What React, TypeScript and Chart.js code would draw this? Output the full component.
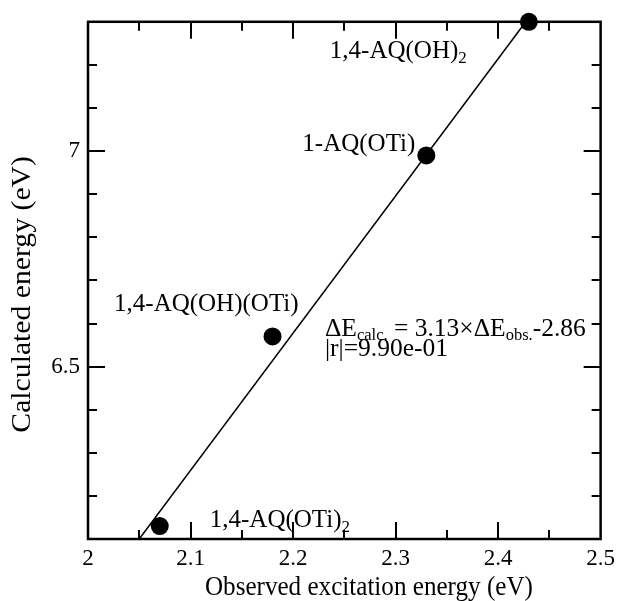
import React, { useEffect, useRef } from "react";
import { Chart, registerables } from "chart.js";

Chart.register(...registerables);

// ---- data ----
const COMPOUNDS = ["1,4-AQ(OTi)_2", "1,4-AQ(OH)(OTi)", "1-AQ(OTi)", "1,4-AQ(OH)_2"];
const OBSERVED = [2.07, 2.18, 2.33, 2.43];
const CALCULATED = [6.13, 6.57, 6.99, 7.3];
const FIT_X = [2.05, 2.427];
const FIT_Y = [6.1, 7.3];
const X_TICKS = [2, 2.1, 2.2, 2.3, 2.4, 2.5];
const X_MINOR = [2.05, 2.15, 2.25, 2.35, 2.45];
const Y_TICKS = [6.5, 7];
const Y_MINOR = [6.2, 6.3, 6.4, 6.6, 6.7, 6.8, 6.9, 7.1, 7.2];
const X_TITLE = "Observed excitation energy (eV)";
const Y_TITLE = "Calculated energy (eV)";
const FIT_SLOPE = "3.13";
const FIT_INTERCEPT = "-2.86";
const FIT_R = "9.90e-01";

const SERIF = "'Liberation Serif', 'Times New Roman', serif";

type Part = [string, boolean];

function drawParts(
  ctx: CanvasRenderingContext2D,
  parts: Part[],
  x: number,
  y: number,
  align: "left" | "right",
  size: number,
  subSize: number,
  subDrop: number
) {
  const widths = parts.map(([t, sub]) => {
    ctx.font = `${sub ? subSize : size}px ${SERIF}`;
    return ctx.measureText(t).width;
  });
  const total = widths.reduce((a, b) => a + b, 0);
  let cx = align === "left" ? x : x - total;
  ctx.textAlign = "left";
  ctx.textBaseline = "alphabetic";
  parts.forEach(([t, sub], i) => {
    ctx.font = `${sub ? subSize : size}px ${SERIF}`;
    ctx.fillText(t, cx, sub ? y + subDrop : y);
    cx += widths[i];
  });
}

function parseName(n: string): Part[] {
  const [a, b] = n.split("_");
  return b ? [[a, false], [b, true]] : [[a, false]];
}

const framePlugin = {
  id: "frame",
  beforeDatasetsDraw(chart: any) {
    const { ctx, chartArea: a, scales } = chart;
    const x = scales.x;
    const y = scales.y;
    ctx.save();
    ctx.strokeStyle = "#000";
    ctx.lineWidth = 2;
    ctx.beginPath();
    const xt = (v: number, len: number) => {
      const p = Math.round(x.getPixelForValue(v));
      ctx.moveTo(p, a.bottom);
      ctx.lineTo(p, a.bottom - len);
      ctx.moveTo(p, a.top);
      ctx.lineTo(p, a.top + len);
    };
    const yt = (v: number, len: number) => {
      const p = Math.round(y.getPixelForValue(v));
      ctx.moveTo(a.left, p);
      ctx.lineTo(a.left + len, p);
      ctx.moveTo(a.right, p);
      ctx.lineTo(a.right - len, p);
    };
    X_TICKS.slice(1, -1).forEach((v) => xt(v, 17));
    X_MINOR.forEach((v) => xt(v, 9));
    Y_TICKS.forEach((v) => yt(v, 17));
    Y_MINOR.forEach((v) => yt(v, 9));
    ctx.stroke();
    ctx.lineWidth = 2.5;
    ctx.strokeRect(a.left, a.top, a.right - a.left, a.bottom - a.top);
    ctx.restore();
  },
  afterDatasetsDraw(chart: any) {
    const { ctx, scales } = chart;
    const x = scales.x;
    const y = scales.y;
    ctx.save();
    ctx.fillStyle = "#000";
    // compound labels, placed relative to their points
    const place: { align: "left" | "right"; dx: number; dy: number }[] = [
      { align: "left", dx: 50, dy: 1 },
      { align: "right", dx: 26, dy: -25 },
      { align: "right", dx: -11, dy: -4 },
      { align: "left", dx: -199, dy: 36 },
    ];
    COMPOUNDS.forEach((name, i) => {
      const px = x.getPixelForValue(OBSERVED[i]);
      const py = y.getPixelForValue(CALCULATED[i]);
      const p = place[i];
      drawParts(ctx, parseName(name), px + p.dx, py + p.dy, p.align, 25, 17, 5);
    });
    // fit equation
    const ex = x.getPixelForValue(2.2311);
    const ey = y.getPixelForValue(6.5707);
    drawParts(
      ctx,
      [
        ["\u0394E", false],
        ["calc.", true],
        [` = ${FIT_SLOPE}\u00d7\u0394E`, false],
        ["obs.", true],
        [FIT_INTERCEPT, false],
      ],
      ex,
      ey,
      "left",
      25.5,
      16.5,
      4
    );
    drawParts(ctx, [[`|r|=${FIT_R}`, false]], ex, ey + 20, "left", 25.5, 16, 4);

    // axis titles
    const a = chart.chartArea;
    ctx.font = `27px ${SERIF}`;
    ctx.textAlign = "center";
    ctx.textBaseline = "alphabetic";
    ctx.save();
    ctx.translate(a.left + (a.right - a.left) * 0.548, 594.5);
    ctx.scale(0.93, 1);
    ctx.fillText(X_TITLE, 0, 0);
    ctx.restore();
    ctx.translate(23, a.top + (a.bottom - a.top) * 0.527);
    ctx.rotate(-Math.PI / 2);
    ctx.scale(1.1, 1);
    ctx.textBaseline = "middle";
    ctx.fillText(Y_TITLE, 0, 0);
    ctx.restore();
  },
};

export default function App() {
  const ref = useRef<HTMLCanvasElement | null>(null);
  useEffect(() => {
    if (!ref.current) return;
    const chart = new Chart(ref.current, {
      type: "scatter",
      data: {
        datasets: [
          {
            type: "line",
            data: FIT_X.map((v, i) => ({ x: v, y: FIT_Y[i] })),
            borderColor: "#000",
            borderWidth: 1.5,
            pointRadius: 0,
            fill: false,
            tension: 0,
          } as any,
          {
            data: OBSERVED.map((v, i) => ({ x: v, y: CALCULATED[i] })),
            backgroundColor: "#000",
            borderColor: "#000",
            borderWidth: 0,
            pointRadius: 9,
            pointHoverRadius: 9,
            clip: false,
          } as any,
        ],
      },
      options: {
        responsive: false,
        animation: false,
        devicePixelRatio: 1,
        events: [],
        layout: { padding: { top: 19, right: 16, left: 0, bottom: 0 } },
        plugins: { legend: { display: false }, tooltip: { enabled: false } },
        scales: {
          x: {
            type: "linear",
            min: 2,
            max: 2.5,
            grid: { display: false, drawTicks: false },
            border: { display: false },
            afterBuildTicks: (s: any) => {
              s.ticks = X_TICKS.map((v) => ({ value: v }));
            },
            afterFit: (s: any) => {
              s.height = 62;
            },
            ticks: {
              padding: 6,
              color: "#000",
              autoSkip: false,
              maxRotation: 0,
              font: { family: SERIF, size: 23 },
              callback: (v: any) => String(v),
            },
          },
          y: {
            type: "linear",
            min: 6.1,
            max: 7.3,
            grid: { display: false, drawTicks: false },
            border: { display: false },
            afterBuildTicks: (s: any) => {
              s.ticks = Y_TICKS.map((v) => ({ value: v }));
            },
            afterFit: (s: any) => {
              s.width = 88;
            },
            ticks: {
              padding: 8,
              color: "#000",
              autoSkip: false,
              font: { family: SERIF, size: 23 },
              callback: (v: any) => String(v),
            },
          },
        },
      } as any,
      plugins: [framePlugin],
    });
    return () => chart.destroy();
  }, []);
  return (
    <div style={{ position: "absolute", left: 0, top: 0, width: 621, height: 601, background: "#fff" }}>
      <canvas ref={ref} width={621} height={601} style={{ width: 621, height: 601 }} />
    </div>
  );
}
